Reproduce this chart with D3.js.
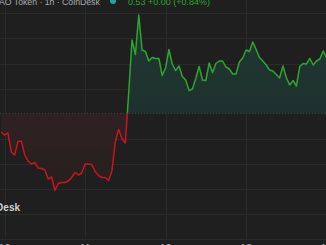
<!DOCTYPE html>
<html>
<head>
<meta charset="utf-8">
<script src="https://cdn.jsdelivr.net/npm/d3@7"></script>
<style>
  html, body { margin: 0; padding: 0; background: #1f1f1f; overflow: hidden; }
  svg { display: block; font-family: "Liberation Sans", Arial, sans-serif; }
</style>
</head>
<body>
<div id="chart"></div>
<script>
// hourly closes, first point is one hour before the first day line
const prices = [
  0.5213, 0.5207, 0.5211, 0.5173, 0.5167, 0.5194, 0.5195, 0.5167, 0.5155, 0.5149,
  0.5152, 0.5141, 0.5140, 0.5137, 0.5119, 0.5123, 0.5096, 0.5110, 0.5112, 0.5112,
  0.5115, 0.5122, 0.5132, 0.5127, 0.5131, 0.5149, 0.5149, 0.5148, 0.5134, 0.5126,
  0.5122, 0.5122, 0.5116, 0.5135, 0.5193, 0.5218, 0.5200, 0.5191, 0.5291, 0.5397,
  0.5368, 0.5447, 0.5377, 0.5374, 0.5355, 0.5362, 0.5360, 0.5360, 0.5326, 0.5341,
  0.5378, 0.5349, 0.5336, 0.5345, 0.5324, 0.5317, 0.5296, 0.5299, 0.5320, 0.5344,
  0.5317, 0.5316, 0.5351, 0.5332, 0.5350, 0.5355, 0.5355, 0.5343, 0.5339, 0.5329,
  0.5329, 0.5353, 0.5361, 0.5377, 0.5374, 0.5393, 0.5378, 0.5362, 0.5355, 0.5347,
  0.5337, 0.5335, 0.5328, 0.5321, 0.5345, 0.5322, 0.5307, 0.5316, 0.5305, 0.5344,
  0.5350, 0.5349, 0.5360, 0.5347, 0.5355, 0.5359, 0.5375, 0.5361
];
const baseValue = 0.5250;
const priceTicks = [0.500, 0.505, 0.510, 0.515, 0.520, 0.530, 0.535, 0.540, 0.545];
const dayTicks = ['10', '11', '12', '13', '14'];
const titleText = 'AO Token · 1h · CoinDesk';
const lastText = '0.53 +0.00 (+0.84%)';
const watermark = 'CoinDesk';

const width = 326, height = 245;
const hour = 3600 * 1000;
const day0 = new Date(2024, 10, 10, 0, 0);
const data = prices.map((p, i) => ({ t: new Date(day0.getTime() + (i - 1) * hour), p }));

const colors = {
  bg: '#1f1f1f',
  grid: '#2a2b2b',
  up: '#2ea52e',
  down: '#c8161c',
  text: '#a9abb0'
};

const x = d3.scaleTime()
  .domain([new Date(day0.getTime() - 1.37 * hour), new Date(day0.getTime() + 95.83 * hour)])
  .range([0, width]);

const y = d3.scaleLinear()
  .domain([0.500, 0.550])
  .range([238.5, -11.5]);

const svg = d3.select('#chart').append('svg')
  .attr('width', width)
  .attr('height', height);

svg.append('rect').attr('width', width).attr('height', height).attr('fill', colors.bg);

const defs = svg.append('defs');
const gUp = defs.append('linearGradient').attr('id', 'fillUp')
  .attr('x1', 0).attr('x2', 0).attr('y1', 0).attr('y2', 1);
gUp.append('stop').attr('offset', '0%').attr('stop-color', '#1f3934');
gUp.append('stop').attr('offset', '100%').attr('stop-color', '#1f2a28');
const gDown = defs.append('linearGradient').attr('id', 'fillDown')
  .attr('x1', 0).attr('x2', 0).attr('y1', 0).attr('y2', 1);
gDown.append('stop').attr('offset', '0%').attr('stop-color', '#3b2424');
gDown.append('stop').attr('offset', '100%').attr('stop-color', '#271f1f');

const yBase = y(baseValue);
defs.append('clipPath').attr('id', 'clipUp')
  .append('rect').attr('x', 0).attr('y', -20).attr('width', width).attr('height', yBase + 20);
defs.append('clipPath').attr('id', 'clipDown')
  .append('rect').attr('x', 0).attr('y', yBase).attr('width', width).attr('height', height);

// grid
svg.append('g').selectAll('line').data(priceTicks).join('line')
  .attr('x1', 0).attr('x2', width)
  .attr('y1', d => Math.round(y(d)) + 0.5).attr('y2', d => Math.round(y(d)) + 0.5)
  .attr('stroke', colors.grid);

const dayDates = dayTicks.map((d, i) => new Date(day0.getTime() + i * 24 * hour));
svg.append('g').selectAll('line').data(dayDates).join('line')
  .attr('x1', d => Math.round(x(d)) + 0.5).attr('x2', d => Math.round(x(d)) + 0.5)
  .attr('y1', 0).attr('y2', 238)
  .attr('stroke', colors.grid);

// area + line split at the base value
const area = d3.area().x(d => x(d.t)).y0(yBase).y1(d => y(d.p));
const line = d3.line().x(d => x(d.t)).y(d => y(d.p));

svg.append('path').datum(data).attr('d', area)
  .attr('fill', 'url(#fillUp)').attr('clip-path', 'url(#clipUp)');
svg.append('path').datum(data).attr('d', area)
  .attr('fill', 'url(#fillDown)').attr('clip-path', 'url(#clipDown)');

svg.append('line')
  .attr('x1', 0).attr('x2', width).attr('y1', yBase).attr('y2', yBase)
  .attr('stroke', '#404040').attr('stroke-dasharray', '1,2');

svg.append('path').datum(data).attr('d', line)
  .attr('fill', 'none').attr('stroke', colors.up).attr('stroke-width', 1.5)
  .attr('stroke-linejoin', 'round').attr('clip-path', 'url(#clipUp)');
svg.append('path').datum(data).attr('d', line)
  .attr('fill', 'none').attr('stroke', colors.down).attr('stroke-width', 1.5)
  .attr('stroke-linejoin', 'round').attr('clip-path', 'url(#clipDown)');

// header legend (top cut off)
svg.append('text')
  .attr('x', -1).attr('y', 5)
  .attr('font-size', 8.7)
  .attr('fill', colors.text)
  .text(titleText);
svg.append('circle').attr('cx', 113).attr('cy', 1).attr('r', 3).attr('fill', '#1fa79b');
svg.append('text')
  .attr('x', 128).attr('y', 5)
  .attr('font-size', 9)
  .attr('fill', colors.up)
  .text(lastText);

// watermark
svg.append('text')
  .attr('x', 20).attr('y', 211)
  .attr('text-anchor', 'end')
  .attr('font-size', 10)
  .attr('font-weight', 'bold')
  .attr('fill', '#cfcfcf')
  .text(watermark);

// time axis labels, mostly below the frame
svg.append('g').selectAll('text').data(dayDates).join('text')
  .attr('x', d => x(d)).attr('y', 252)
  .attr('text-anchor', 'middle')
  .attr('font-size', 11)
  .attr('fill', colors.text)
  .text((d, i) => dayTicks[i]);
</script>
</body>
</html>
